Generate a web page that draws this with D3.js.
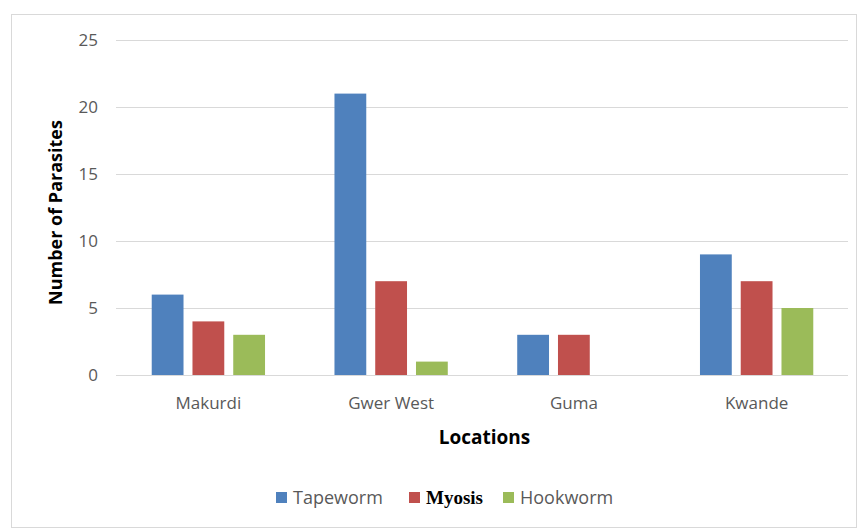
<!DOCTYPE html>
<html>
<head>
<meta charset="utf-8">
<script src="https://cdn.jsdelivr.net/npm/d3@7"></script>
<style>
  body { margin: 0; background: #fff; }
  text { font-family: "Open Sans", "Liberation Sans", sans-serif; }
</style>
</head>
<body>
<div id="chart-area"></div>
<script>
// Data
let locations = ["Makurdi", "Gwer West", "Guma", "Kwande"];
let seriesNames = ["Tapeworm", "Myosis", "Hookworm"];
let tapeworm = [6, 21, 3, 9];
let myosis = [4, 7, 3, 7];
let hookworm = [3, 1, 0, 5];
let yTicks = [0, 5, 10, 15, 20, 25];

let colors = ["#4f81bd", "#c0504d", "#9bbb59"];
let seriesValues = [tapeworm, myosis, hookworm];

let width_raw = 860,
	height_raw = 529;

let margin = {top: 40, right: 12, bottom: 154, left: 117};
let width = width_raw - margin.left - margin.right,
	height = height_raw - margin.top - margin.bottom;

let root = d3.select("#chart-area")
	.append("svg")
	.attr("width", width_raw)
	.attr("height", height_raw);

// outer frame
root.append("rect")
	.attr("x", 11.5).attr("y", 14.5)
	.attr("width", 845).attr("height", 513)
	.attr("fill", "#fff")
	.attr("stroke", "#d9d9d9");

let svg = root.append("g")
	.attr("transform", "translate(" + margin.left + "," + margin.top + ")");

let x0 = d3.scaleBand()
	.domain(locations)
	.range([0, width])
	.paddingInner(0.38)
	.paddingOuter(0.19);

let x1 = d3.scaleBand()
	.domain(seriesNames)
	.range([0, x0.bandwidth()])
	.paddingInner(0.22)
	.paddingOuter(0);

let y = d3.scaleLinear()
	.domain([0, 25])
	.range([height, 0]);

// gridlines
svg.append("g")
	.selectAll("line")
	.data(yTicks)
	.enter()
	.append("line")
	.attr("x1", -1)
	.attr("x2", width)
	.attr("y1", d => Math.round(y(d)) + 0.5)
	.attr("y2", d => Math.round(y(d)) + 0.5)
	.attr("stroke", "#d9d9d9");

// y axis labels
let yAxis = d3.axisLeft(y).tickValues(yTicks).tickSize(0).tickPadding(19);
let yGroup = svg.append("g").call(yAxis);
yGroup.select(".domain").remove();
yGroup.selectAll("text")
	.attr("fill", "#595959")
	.style("font-size", "17px");

// bars
let groups = svg.selectAll(".loc")
	.data(locations)
	.enter()
	.append("g")
	.attr("class", "loc")
	.attr("transform", d => "translate(" + x0(d) + ",0)");

groups.selectAll("rect")
	.data((d, i) => seriesNames.map((s, j) => ({s: s, v: seriesValues[j][i], c: colors[j]})))
	.enter()
	.append("rect")
	.attr("x", d => x1(d.s))
	.attr("width", x1.bandwidth())
	.attr("y", d => y(d.v))
	.attr("height", d => height - y(d.v))
	.attr("fill", d => d.c);

// x axis labels
let xAxis = d3.axisBottom(x0).tickSize(0).tickPadding(22);
let xGroup = svg.append("g")
	.attr("transform", "translate(0," + height + ")")
	.call(xAxis);
xGroup.select(".domain").remove();
xGroup.selectAll("text")
	.attr("fill", "#595959")
	.style("font-size", "17px");

// axis titles
svg.append("text")
	.attr("x", width / 2 + 2)
	.attr("y", height + 69)
	.attr("text-anchor", "middle")
	.style("font-size", "19px")
	.style("font-weight", "bold")
	.attr("fill", "#000")
	.text("Locations");

svg.append("text")
	.attr("transform", "translate(" + (-55) + "," + (height / 2 + 5) + ")rotate(-90)")
	.attr("text-anchor", "middle")
	.style("font-size", "18px")
	.style("font-weight", "bold")
	.attr("fill", "#000")
	.text("Number of Parasites");

// legend
let legendX = [276, 409, 503];
let legend = root.append("g");
seriesNames.forEach((s, i) => {
	legend.append("rect")
		.attr("x", legendX[i]).attr("y", 492)
		.attr("width", 11).attr("height", 11)
		.attr("fill", colors[i]);
	let t = legend.append("text")
		.attr("x", legendX[i] + 17)
		.attr("y", 504)
		.style("font-size", "18px")
		.text(s);
	if (s === "Myosis") {
		t.style("font-family", "'Liberation Serif', serif")
			.style("font-weight", "bold")
			.style("font-size", "19px")
			.attr("fill", "#000");
	} else {
		t.attr("fill", "#595959");
	}
});
</script>
</body>
</html>
